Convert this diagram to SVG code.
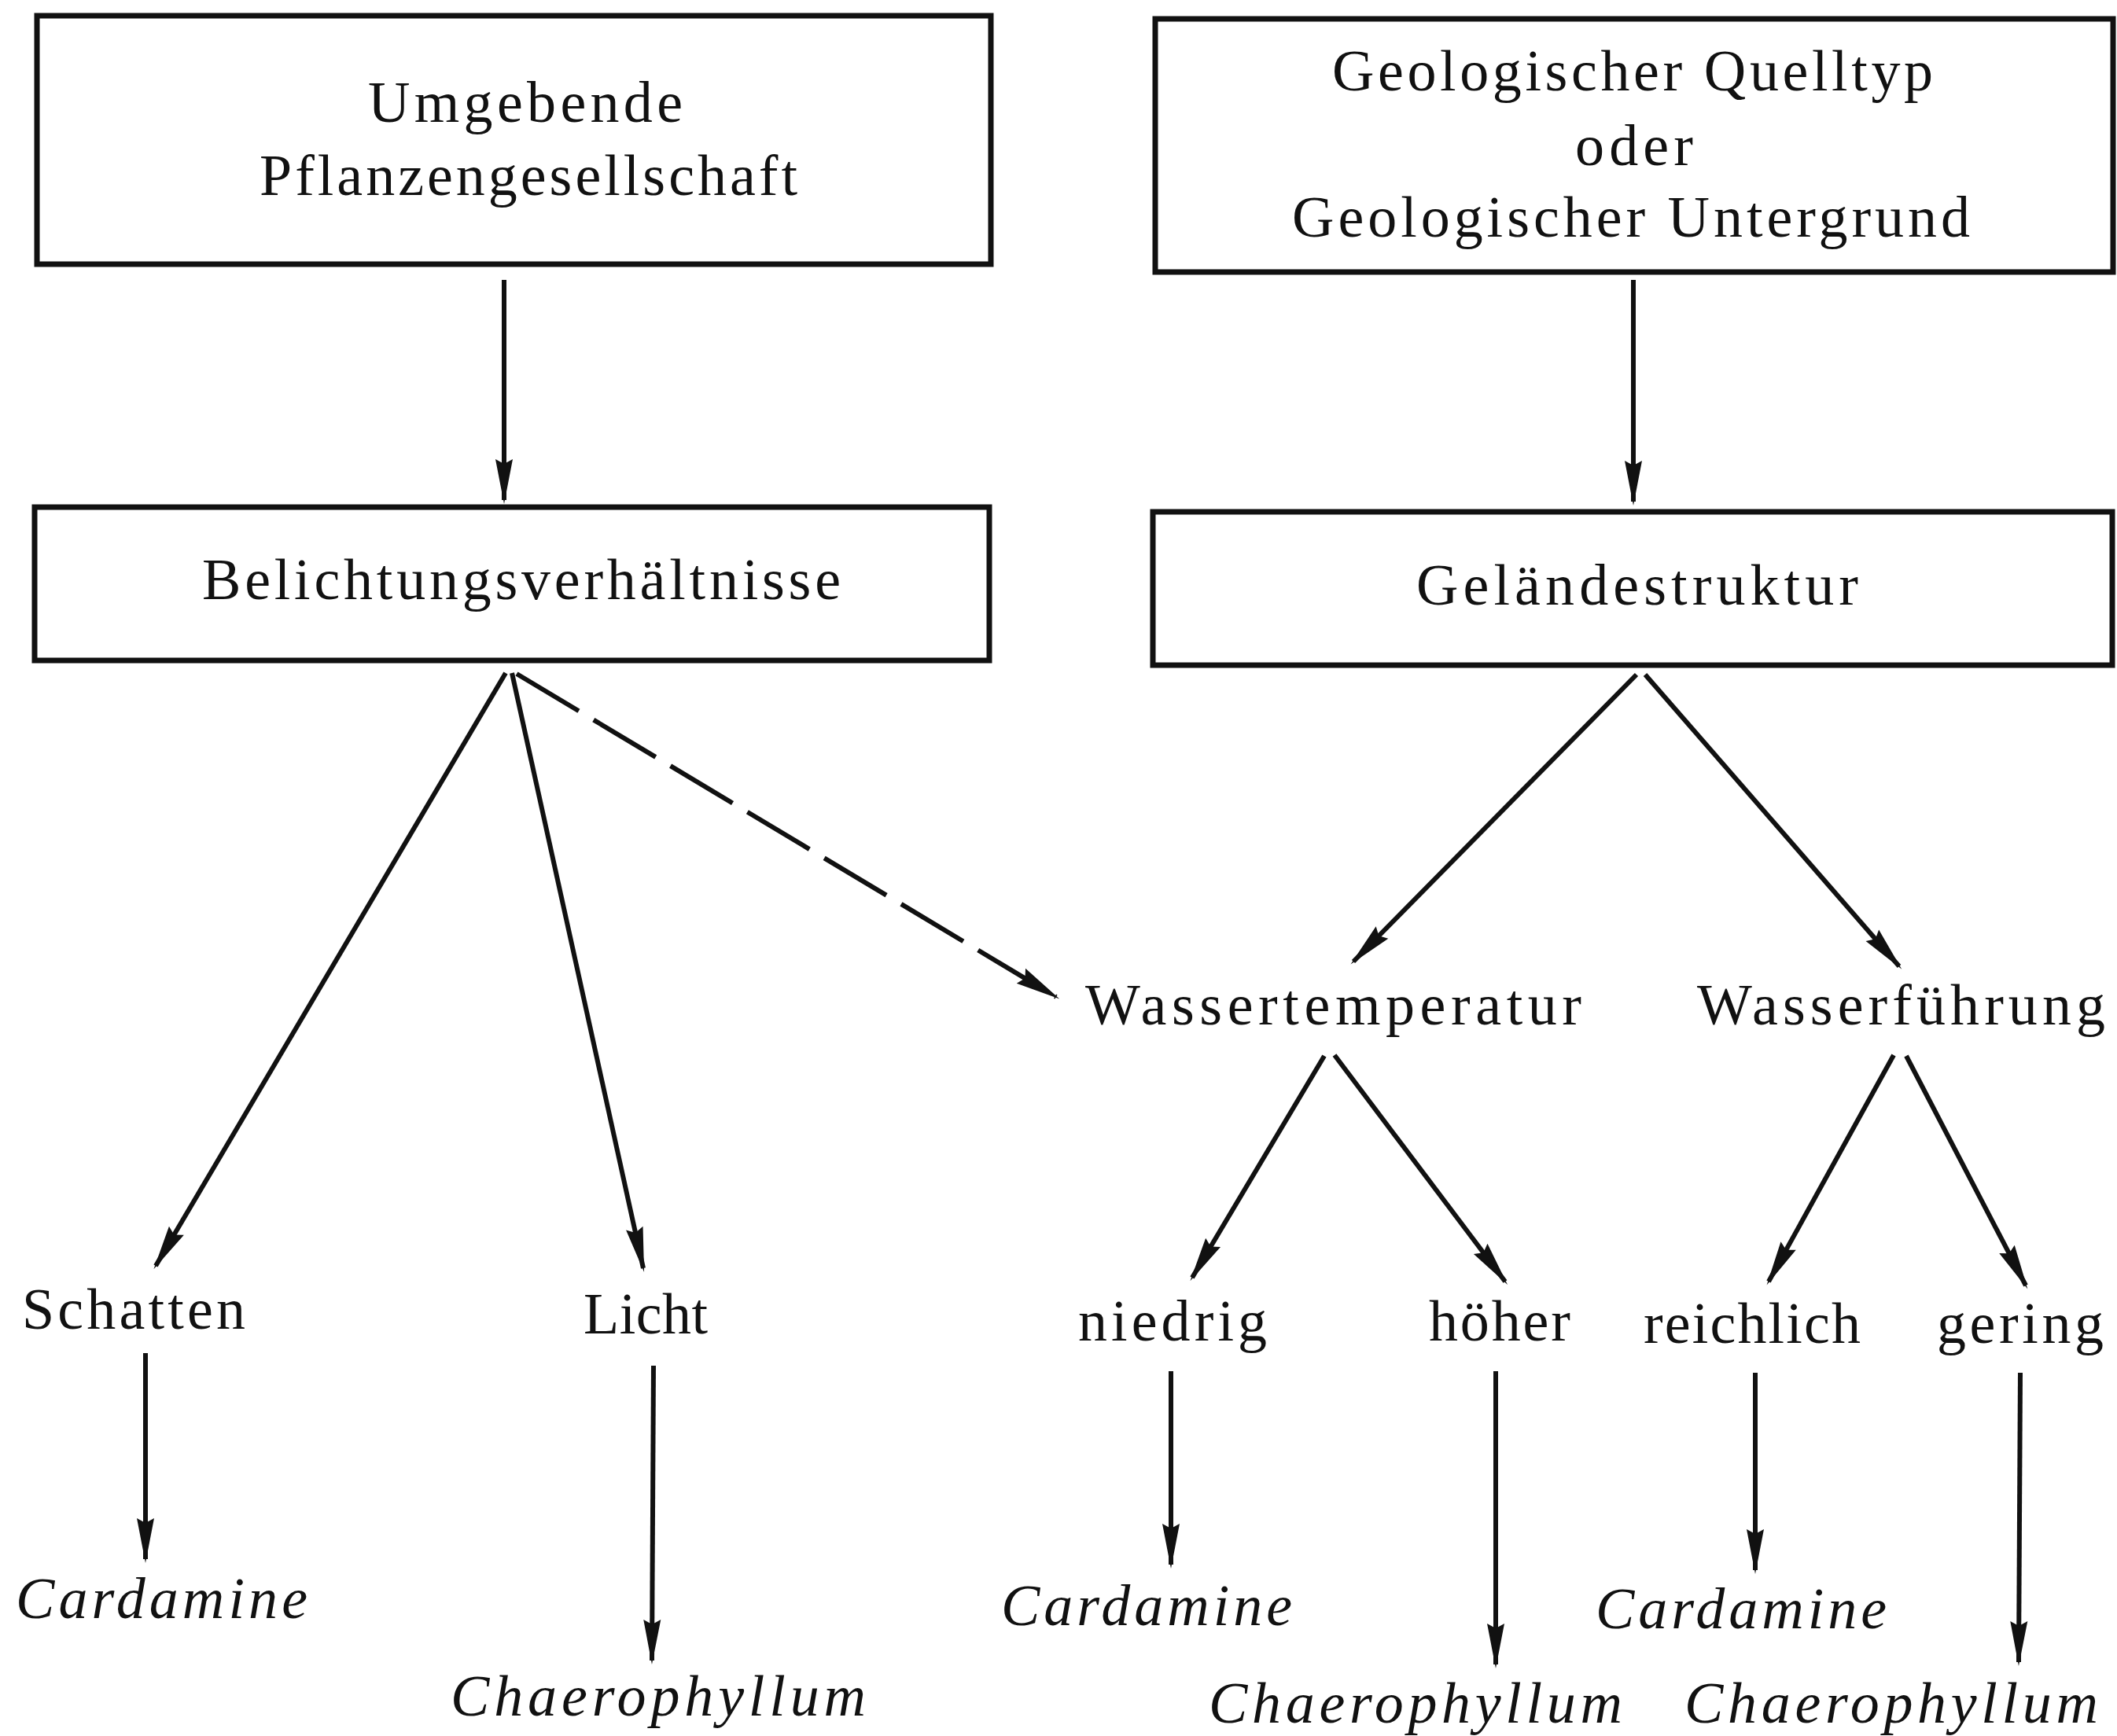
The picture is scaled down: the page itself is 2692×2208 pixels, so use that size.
<svg xmlns="http://www.w3.org/2000/svg" width="2692" height="2208" viewBox="0 0 2692 2208">
<style>
.box{fill:#fff;stroke:#111;stroke-width:7}
.t{font-family:"Liberation Serif","Times New Roman",serif;font-size:74px;fill:#111}
.i{font-style:italic}
.c{fill:none;stroke:#111;stroke-width:6;marker-end:url(#ah)}
.d{stroke-dasharray:92 22}
</style>
<defs>
<marker id="ah" viewBox="-58 -14 64 28" markerWidth="64" markerHeight="28" refX="0" refY="0" orient="auto" markerUnits="userSpaceOnUse">
<path d="M5,0 L-52,-11 L-46,0 L-52,11 Z" fill="#111"/>
</marker>
</defs>
<rect width="2692" height="2208" fill="#fff"/>
<g id="n-umgebende">
<rect class="box" x="47" y="20" width="1213" height="316"/>
<text class="t" x="468" y="155" textLength="400" lengthAdjust="spacing">Umgebende</text>
<text class="t" x="330" y="248" textLength="684" lengthAdjust="spacing">Pflanzengesellschaft</text>
</g>
<g id="n-geologisch">
<rect class="box" x="1469" y="24" width="1218" height="322"/>
<text class="t" x="1694" y="115" textLength="764" lengthAdjust="spacing">Geologischer Quelltyp</text>
<text class="t" x="2003" y="210" textLength="150" lengthAdjust="spacing">oder</text>
<text class="t" x="1643" y="301" textLength="862" lengthAdjust="spacing">Geologischer Untergrund</text>
</g>
<g id="n-belichtung">
<rect class="box" x="44" y="645" width="1214" height="195"/>
<text class="t" x="257" y="762" textLength="812" lengthAdjust="spacing">Belichtungsverhältnisse</text>
</g>
<g id="n-gelaende">
<rect class="box" x="1466" y="651" width="1220" height="195"/>
<text class="t" x="1801" y="769" textLength="562" lengthAdjust="spacing">Geländestruktur</text>
</g>
<g id="n-wassertemperatur"><text class="t" x="1380" y="1303" textLength="631" lengthAdjust="spacing">Wassertemperatur</text></g>
<g id="n-wasserfuehrung"><text class="t" x="2158" y="1303" textLength="519" lengthAdjust="spacing">Wasserführung</text></g>
<g id="n-schatten"><text class="t" x="28" y="1690" textLength="284" lengthAdjust="spacing">Schatten</text></g>
<g id="n-licht"><text class="t" x="742" y="1696" textLength="158" lengthAdjust="spacing">Licht</text></g>
<g id="n-niedrig"><text class="t" x="1371" y="1705" textLength="240" lengthAdjust="spacing">niedrig</text></g>
<g id="n-hoeher"><text class="t" x="1817" y="1705" textLength="180" lengthAdjust="spacing">höher</text></g>
<g id="n-reichlich"><text class="t" x="2090" y="1708" textLength="276" lengthAdjust="spacing">reichlich</text></g>
<g id="n-gering"><text class="t" x="2463" y="1708" textLength="212" lengthAdjust="spacing">gering</text></g>
<g id="n-cardamine1"><text class="t i" x="20" y="2058" textLength="371" lengthAdjust="spacing">Cardamine</text></g>
<g id="n-chaerophyllum1"><text class="t i" x="573" y="2182" textLength="528" lengthAdjust="spacing">Chaerophyllum</text></g>
<g id="n-cardamine2"><text class="t i" x="1273" y="2067" textLength="370" lengthAdjust="spacing">Cardamine</text></g>
<g id="n-chaerophyllum2"><text class="t i" x="1537" y="2191" textLength="526" lengthAdjust="spacing">Chaerophyllum</text></g>
<g id="n-cardamine3"><text class="t i" x="2029" y="2071" textLength="370" lengthAdjust="spacing">Cardamine</text></g>
<g id="n-chaerophyllum3"><text class="t i" x="2142" y="2191" textLength="526" lengthAdjust="spacing">Chaerophyllum</text></g>
<g id="connectors">
<line class="c" x1="641" y1="356" x2="641" y2="636"/>
<line class="c" x1="2077" y1="356" x2="2077" y2="638"/>
<line class="c" x1="643" y1="856" x2="198" y2="1610"/>
<line class="c" x1="651" y1="856" x2="818" y2="1613"/>
<line class="c d" x1="657" y1="857" x2="1343" y2="1268"/>
<line class="c" x1="2081" y1="858" x2="1721" y2="1223"/>
<line class="c" x1="2092" y1="858" x2="2415" y2="1229"/>
<line class="c" x1="1684" y1="1343" x2="1516" y2="1625"/>
<line class="c" x1="1697" y1="1342" x2="1914" y2="1630"/>
<line class="c" x1="2408" y1="1342" x2="2249" y2="1630"/>
<line class="c" x1="2424" y1="1343" x2="2576" y2="1635"/>
<line class="c" x1="185" y1="1721" x2="185" y2="1983"/>
<line class="c" x1="831" y1="1737" x2="829" y2="2112"/>
<line class="c" x1="1489" y1="1744" x2="1489" y2="1990"/>
<line class="c" x1="1902" y1="1744" x2="1902" y2="2117"/>
<line class="c" x1="2232" y1="1746" x2="2232" y2="1997"/>
<line class="c" x1="2569" y1="1746" x2="2567" y2="2114"/>
</g>
</svg>
